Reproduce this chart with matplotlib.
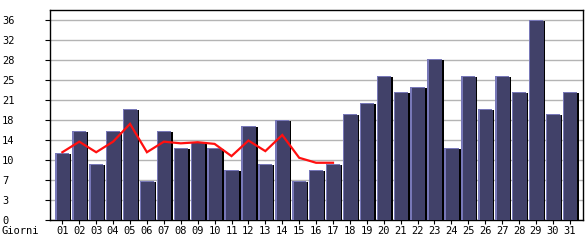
import numpy as np
import matplotlib
matplotlib.use("Agg")
import matplotlib.pyplot as plt

# daily values (bars)
giorni = ["%02d" % d for d in range(1, 32)]
visite = [12, 16, 10, 16, 20, 7, 16, 13, 14, 13, 9, 17, 10, 18, 7, 9, 10,
          19, 21, 26, 23, 24, 29, 13, 26, 20, 26, 23, 36, 19, 23]

# red line (only first 17 days)
media = [12.2, 14.1, 12.2, 14.1, 17.3, 12.2, 14.1, 13.8, 14.0, 13.7, 11.5,
         14.3, 12.4, 15.3, 11.2, 10.3, 10.3]

yticks = [0, 3.6, 7.2, 10.8, 14.4, 18, 21.6, 25.2, 28.8, 32.4, 36]
ylabels = ["0", "3", "7", "10", "14", "18", "21", "25", "28", "32", "36"]

W, H = 585, 240
fig = plt.figure(figsize=(W / 100, H / 100), dpi=100)
ax = fig.add_axes([50 / W, 20 / H, 532.5 / W, 210 / H])

x = np.arange(1, 32)
vals = np.array(visite, dtype=float)
bw = 0.84
px = 1 / 16.9          # one pixel in x units
py = 37.8 / 210        # one pixel in y units

# shadow, light edge, dark fill
ax.bar(x + 2 * px, vals - py, width=bw, color="#000000", zorder=2)
ax.bar(x, vals, width=bw, color="#7878b8", zorder=3)
ax.bar(x + px, vals - py, width=bw - px, color="#414169", zorder=4)

ax.plot(x[:len(media)], media, color="#ff1010", lw=1.6, zorder=5,
        solid_joinstyle="miter")

ax.set_xlim(1 - 0.73, 31 + 0.75)
ax.set_ylim(0, 37.8)

ax.set_yticks(yticks)
ax.yaxis.grid(True, color="#b4b4b4", lw=1)
ax.set_axisbelow(True)
ax.set_yticklabels(ylabels, family="DejaVu Sans Mono", fontsize=7.5)
ax.tick_params(axis="y", length=3.6, width=0.8, pad=31, direction="out")
for lab in ax.get_yticklabels():
    lab.set_horizontalalignment("left")

ax.set_xticks(x)
ax.set_xticklabels(giorni, family="DejaVu Sans Mono", fontsize=7.5)
ax.tick_params(axis="x", length=3, width=0.8, pad=1.5, direction="out")

for s in ax.spines.values():
    s.set_color("black")
    s.set_linewidth(1)

fig.text(2 / W, 9 / H, "Giorni", family="DejaVu Sans Mono", fontsize=7.5,
         ha="left", va="center")

fig.savefig("out.png", dpi=100)
